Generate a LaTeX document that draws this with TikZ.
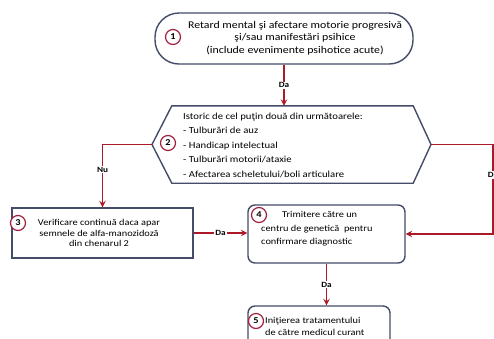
\documentclass[tikz,border=0pt]{standalone}
\usepackage{fontspec}
\setmainfont{Carlito}[FakeStretch=1.15]
\usepackage{xcolor}
\usetikzlibrary{positioning, calc}
\definecolor{boxline}{RGB}{68,76,104}
\definecolor{darkred}{RGB}{172,26,42}
\definecolor{circred}{RGB}{160,32,62}

\begin{document}
\begin{tikzpicture}[x=1pt, y=-1pt]
	\tikzstyle{box} = [draw=boxline, line width=1.4pt, fill=white, inner sep=0pt]
	\tikzstyle{oval} = [box, rounded corners=24pt]
	\tikzstyle{rbox} = [box, rounded corners=7pt]
	\tikzstyle{hexa} = [draw=boxline, line width=1.4pt, fill=white, line join=miter]
	\tikzstyle{num} = [circle, draw=circred, line width=1.2pt, fill=white, inner sep=0pt, minimum size=15pt, font=\bfseries\fontsize{9}{9}\selectfont]
	\tikzstyle{txt} = [inner sep=0pt, font=\fontsize{9}{10.5}\selectfont]
	\tikzstyle{edge} = [draw=darkred, line width=1.8pt]
	\tikzstyle{arrow} = [edge, -stealth]
	\tikzstyle{answer} = [fill=white, inner sep=1pt, font=\bfseries\fontsize{8}{8}\selectfont]

	\useasboundingbox (0,0) rectangle (494,338);

	% boxes
	\node (1) [oval, minimum width=258, minimum height=51] at (284,38.5) {};
	\node (2) [inner sep=0pt, minimum width=241, minimum height=77] at (292.5,144.5) {};
	\coordinate (2l) at (152,144.5);
	\coordinate (2r) at (431,144.5);
	\draw [hexa] (2l) -- (2.north west) -- (2.north east) -- (2r) -- (2.south east) -- (2.south west) -- cycle;
	\node (3) [box, minimum width=181, minimum height=50] at (102.5,233) {};
	\node (4) [rbox, minimum width=157, minimum height=58] at (326.5,234) {};
	\node (5) [rbox, minimum width=142, minimum height=44] at (319,328) {};

	% texts
	\node (t1) [txt, align=center, font=\fontsize{10.3}{12.5}\selectfont] at (295,38) {Retard mental şi afectare motorie progresivă\\şi/sau manifestări psihice\\(include evenimente psihotice acute)};
	\node (t2) [txt, align=left, anchor=west, font=\fontsize{9.3}{14.5}\selectfont] at (183,145) {Istoric de cel puţin două din următoarele:\\- Tulburări de auz\\- Handicap intelectual\\- Tulburări motorii/ataxie\\- Afectarea scheletului/boli articulare};
	\node (t3) [txt, align=center] at (99,233) {Verificare continuă daca apar\\semnele de alfa-manozidoză\\din chenarul 2};
	\node (t4) [txt, align=left, anchor=west, font=\fontsize{9}{13.5}\selectfont] at (261,229) {\hspace*{21pt}Trimitere către un\\centru de genetică\ \ pentru\\confirmare diagnostic};
	\node (t5) [txt, align=left, anchor=west, font=\fontsize{9}{12}\selectfont] at (265,326) {Iniţierea tratamentului\\de către medicul curant};

	% numbers
	\node (c1) [num] at (173,37) {1};
	\node (c2) [num] at (168,143) {2};
	\node (c3) [num] at (18,223) {3};
	\node (c4) [num] at (259,215) {4};
	\node (c5) [num] at (256,321) {5};

	% connectors
	\coordinate (rc) at (493,144.5);
	\draw [arrow] (1.south) -- node [answer] {Da} (1.south |- 2.north);
	\draw [arrow] (2l) -| node [answer, pos=0.7] {Nu} (3.north);
	\draw [arrow] (2r) -- (rc) |- node [answer, pos=0.17] {Da} (4.east);
	\draw [arrow] (3.east) -- node [answer] {Da} (3.east -| 4.west);
	\draw [arrow] (4.south) -- node [answer] {Da} (4.south |- 5.north);
\end{tikzpicture}
\end{document}
